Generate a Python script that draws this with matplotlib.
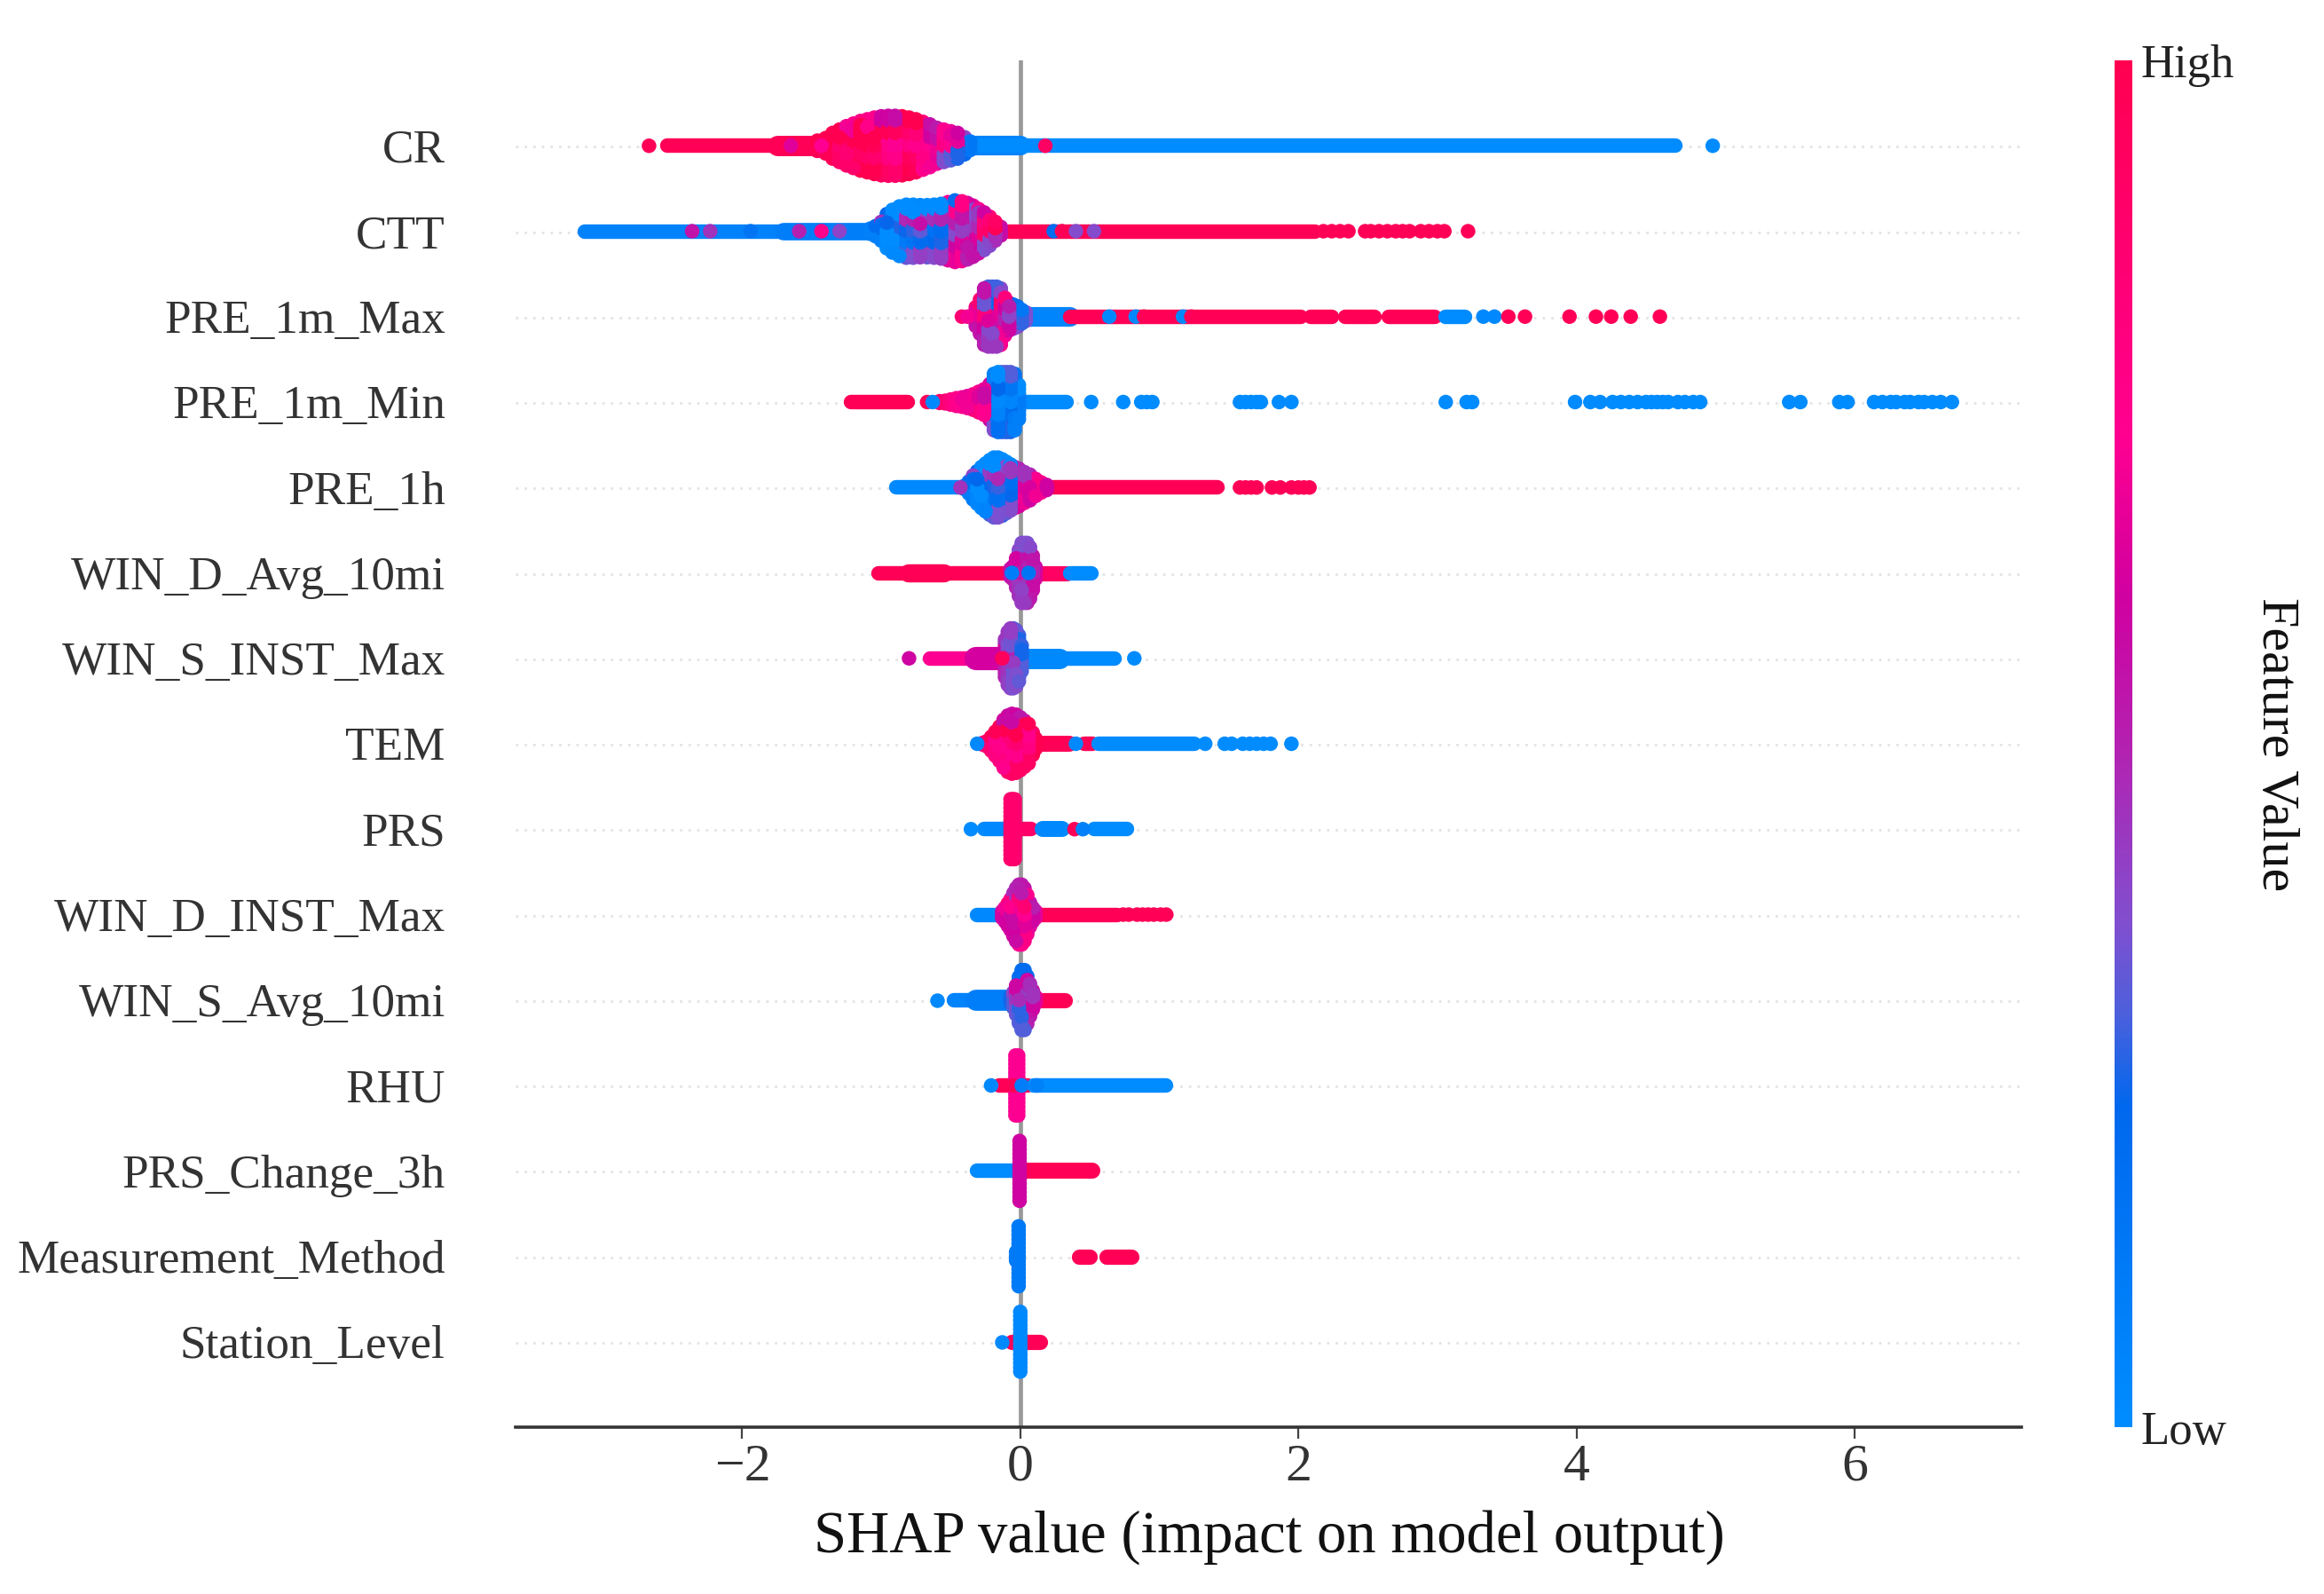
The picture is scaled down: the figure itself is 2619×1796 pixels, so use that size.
import numpy as np
import matplotlib
matplotlib.use("Agg")
import matplotlib.pyplot as plt
from matplotlib.colors import LinearSegmentedColormap, Normalize
from matplotlib.cm import ScalarMappable

plt.rcParams['font.family'] = ['Liberation Serif', 'DejaVu Serif']

features = ["CR", "CTT", "PRE_1m_Max", "PRE_1m_Min", "PRE_1h", "WIN_D_Avg_10mi",
            "WIN_S_INST_Max", "TEM", "PRS", "WIN_D_INST_Max", "WIN_S_Avg_10mi",
            "RHU", "PRS_Change_3h", "Measurement_Method", "Station_Level"]
x_ticks = [-2, 0, 2, 4, 6]

# each feature: dense bands (start, end, value, thickness), swarm columns (x, half-height in layers, value), single dots (x, value)
CR_run_s = [-2.54, -1.75, -0.34, -0.30]
CR_run_e = [-1.70, -1.42, 0.0, 4.71]
CR_run_v = [0.98, 0.98, 0.06, 0.01]
CR_run_w = [1.0, 1.4, 1.35, 1.0]
CR_col_x = [-1.46, -1.40, -1.35, -1.30, -1.25, -1.20, -1.15, -1.10, -1.05, -1.00, -0.95, -0.90, -0.85, -0.80, -0.75, -0.70, -0.65, -0.60, -0.55, -0.50, -0.45, -0.40, -0.36]
CR_col_n = [1.2, 1.8, 3.0, 3.8, 4.6, 5.2, 5.8, 6.2, 6.6, 6.9, 7.0, 7.0, 6.9, 6.6, 6.2, 5.6, 5.0, 4.2, 3.8, 3.4, 3.0, 2.0, 1.0]
CR_col_v = [0.98, 0.97, 0.97, 0.96, 0.95, 0.94, 0.92, 0.9, 0.88, 0.86, 0.85, 0.82, 0.8, 0.78, 0.74, 0.7, 0.66, 0.62, 0.56, 0.5, 0.44, 0.36, 0.28]
CR_dot_x = [-2.67, -1.65, -1.43, 0.18, 4.98]
CR_dot_v = [0.98, 0.65, 0.72, 0.92, 0.01]

CTT_run_s = [-3.13, -1.70, -0.08]
CTT_run_e = [-1.10, -1.06, 2.12]
CTT_run_v = [0.07, 0.1, 0.98]
CTT_run_w = [1.0, 1.2, 1.0]
CTT_col_x = [-1.08, -1.04, -1.00, -0.96, -0.92, -0.87, -0.82, -0.77, -0.72, -0.67, -0.62, -0.57, -0.52, -0.47, -0.42, -0.38, -0.34, -0.30, -0.26, -0.22, -0.18, -0.14]
CTT_col_n = [0.6, 1.2, 2.2, 4.0, 5.0, 5.8, 6.2, 6.2, 6.1, 6.1, 6.2, 6.4, 6.8, 7.2, 7.0, 6.6, 6.0, 5.2, 4.4, 3.4, 2.2, 1.0]
CTT_col_v = [0.08, 0.08, 0.08, 0.08, 0.1, 0.1, 0.12, 0.15, 0.2, 0.25, 0.3, 0.33, 0.36, 0.38, 0.42, 0.45, 0.5, 0.55, 0.6, 0.62, 0.7, 0.75]
CTT_dot_x = [-2.36, -2.23, -1.94, -1.59, -1.43, -1.30, 0.24, 0.30, 0.40, 0.53, 2.18, 2.24, 2.30, 2.36, 2.48, 2.52, 2.58, 2.64, 2.70, 2.75, 2.80, 2.88, 2.94, 3.00, 3.05, 3.22]
CTT_dot_v = [0.55, 0.45, 0.15, 0.5, 0.75, 0.4, 0.2, 0.98, 0.38, 0.38, 0.98, 0.98, 0.98, 0.98, 0.98, 0.98, 0.98, 0.98, 0.98, 0.98, 0.98, 0.98, 0.98, 0.98, 0.98, 0.98]

MAX_run_s = [0.04, 0.36, 2.09, 2.34, 2.65, 3.06]
MAX_run_e = [0.36, 2.02, 2.24, 2.55, 2.98, 3.20]
MAX_run_v = [0.05, 0.98, 0.98, 0.98, 0.98, 0.01]
MAX_run_w = [1.35, 1.0, 1.0, 1.0, 1.0, 1.0]
MAX_col_x = [-0.32, -0.29, -0.26, -0.23, -0.20, -0.17, -0.14, -0.11, -0.08, -0.05, -0.02, 0.01, 0.04]
MAX_col_n = [2.2, 4.0, 6.6, 7.0, 7.0, 7.0, 6.6, 4.4, 3.2, 2.8, 2.4, 1.6, 1.0]
MAX_col_v = [0.55, 0.55, 0.5, 0.5, 0.5, 0.5, 0.55, 0.5, 0.4, 0.35, 0.3, 0.2, 0.1]
MAX_dot_x = [-0.42, -0.38, 0.64, 0.83, 0.89, 1.17, 1.23, 3.33, 3.41, 3.51, 3.63, 3.95, 4.14, 4.25, 4.39, 4.60]
MAX_dot_v = [0.85, 0.7, 0.02, 0.02, 0.98, 0.02, 0.98, 0.02, 0.02, 0.98, 0.98, 0.98, 0.98, 0.98, 0.98, 0.98]

MIN_run_s = [-1.22, 0.04]
MIN_run_e = [-0.81, 0.33]
MIN_run_v = [0.98, 0.01]
MIN_run_w = [1.0, 1.0]
MIN_col_x = [-0.58, -0.54, -0.50, -0.46, -0.42, -0.38, -0.34, -0.30, -0.26, -0.22, -0.19, -0.16, -0.13, -0.10, -0.07, -0.04, -0.01]
MIN_col_n = [0.2, 0.3, 0.6, 0.9, 1.1, 1.4, 1.8, 2.4, 3.0, 4.2, 6.6, 7.0, 7.0, 7.0, 7.0, 6.6, 4.0]
MIN_col_v = [0.9, 0.85, 0.8, 0.8, 0.78, 0.75, 0.7, 0.65, 0.58, 0.5, 0.3, 0.12, 0.1, 0.06, 0.05, 0.05, 0.05]
MIN_dot_x = [-0.67, -0.63, 0.51, 0.74, 0.87, 0.91, 0.95, 1.58, 1.62, 1.66, 1.70, 1.73, 1.86, 1.95, 3.06, 3.21, 3.25, 3.99, 4.10, 4.17, 4.26, 4.32, 4.38, 4.44, 4.50, 4.54, 4.58, 4.62, 4.66, 4.73, 4.78, 4.84, 4.89, 5.53, 5.61, 5.89, 5.95, 6.14, 6.20, 6.26, 6.30, 6.36, 6.40, 6.46, 6.50, 6.56, 6.62, 6.70]
MIN_dot_v = [0.98, 0.02] + [0.01] * 46

H1_run_s = [-0.89, 0.24]
H1_run_e = [-0.43, 1.42]
H1_run_v = [0.02, 0.98]
H1_run_w = [1.0, 1.0]
H1_col_x = [-0.40, -0.37, -0.34, -0.31, -0.28, -0.25, -0.22, -0.19, -0.16, -0.13, -0.10, -0.07, -0.04, -0.01, 0.03, 0.07, 0.11, 0.15, 0.19]
H1_col_n = [0.4, 1.4, 2.8, 3.8, 4.8, 5.6, 6.4, 7.0, 7.0, 6.6, 6.0, 5.4, 4.8, 4.4, 3.6, 3.0, 2.0, 1.2, 0.6]
H1_col_v = [0.1, 0.1, 0.1, 0.1, 0.1, 0.12, 0.12, 0.15, 0.18, 0.2, 0.25, 0.3, 0.34, 0.38, 0.45, 0.55, 0.65, 0.7, 0.8]
H1_dot_x = [-0.43, 1.58, 1.62, 1.66, 1.70, 1.81, 1.87, 1.95, 2.00, 2.04, 2.08]
H1_dot_v = [0.45, 0.98, 0.98, 0.98, 0.98, 0.98, 0.98, 0.98, 0.98, 0.98, 0.98]

WDA_run_s = [-1.02, -0.80, 0.10, 0.36]
WDA_run_e = [-0.10, -0.55, 0.33, 0.51]
WDA_run_v = [0.98, 0.98, 0.92, 0.01]
WDA_run_w = [1.0, 1.25, 1.05, 1.0]
WDA_col_x = [-0.07, -0.05, -0.03, -0.01, 0.01, 0.03, 0.05, 0.07, 0.09, 0.11]
WDA_col_n = [1.0, 1.6, 3.4, 5.4, 7.0, 7.0, 7.0, 6.0, 4.0, 1.4]
WDA_col_v = [0.55, 0.55, 0.5, 0.48, 0.45, 0.45, 0.42, 0.45, 0.5, 0.6]
WDA_dot_x = [-0.06, 0.06]
WDA_dot_v = [0.1, 0.15]

WSI_run_s = [-0.65, -0.32, 0.04, 0.05]
WSI_run_e = [-0.30, -0.13, 0.68, 0.28]
WSI_run_v = [0.72, 0.62, 0.01, 0.03]
WSI_run_w = [1.0, 1.6, 1.0, 1.4]
WSI_col_x = [-0.11, -0.09, -0.07, -0.05, -0.03, -0.01, 0.01]
WSI_col_n = [4.4, 6.2, 7.0, 7.0, 6.6, 5.4, 3.0]
WSI_col_v = [0.5, 0.42, 0.4, 0.38, 0.4, 0.35, 0.25]
WSI_dot_x = [-0.80, 0.82, -0.13]
WSI_dot_v = [0.6, 0.01, 0.95]

TEM_run_s = [0.10, 0.46, 0.56]
TEM_run_e = [0.35, 0.52, 1.25]
TEM_run_v = [0.97, 0.97, 0.01]
TEM_run_w = [1.1, 1.0, 1.0]
TEM_col_x = [-0.27, -0.24, -0.21, -0.18, -0.15, -0.12, -0.09, -0.06, -0.03, 0.0, 0.03, 0.06, 0.09, 0.11]
TEM_col_n = [0.2, 0.6, 1.6, 2.8, 4.0, 5.6, 6.6, 7.0, 6.8, 6.2, 5.4, 4.6, 2.6, 1.2]
TEM_col_v = [0.85, 0.85, 0.85, 0.85, 0.85, 0.8, 0.72, 0.72, 0.75, 0.78, 0.85, 0.85, 0.88, 0.9]
TEM_dot_x = [-0.31, 0.40, 1.33, 1.47, 1.52, 1.60, 1.65, 1.70, 1.75, 1.80, 1.95]
TEM_dot_v = [0.03, 0.03, 0.01, 0.01, 0.01, 0.01, 0.01, 0.01, 0.01, 0.01, 0.01]

PRS_run_s = [-0.26, 0.00, 0.16, 0.53]
PRS_run_e = [-0.08, 0.08, 0.30, 0.77]
PRS_run_v = [0.02, 0.9, 0.02, 0.01]
PRS_run_w = [1.0, 1.0, 1.1, 1.0]
PRS_col_x = [-0.07, -0.055, -0.04]
PRS_col_n = [7, 7, 7]
PRS_col_v = [0.88, 0.88, 0.88]
PRS_dot_x = [-0.355, 0.39, 0.45]
PRS_dot_v = [0.01, 0.97, 0.08]

WDI_run_s = [-0.31, 0.13]
WDI_run_e = [-0.17, 0.70]
WDI_run_v = [0.02, 0.98]
WDI_run_w = [1.0, 1.0]
WDI_col_x = [-0.13, -0.11, -0.09, -0.07, -0.05, -0.03, -0.01, 0.01, 0.03, 0.05, 0.07, 0.09, 0.11]
WDI_col_n = [0.8, 1.6, 2.6, 3.6, 5.0, 6.2, 7.0, 7.0, 6.2, 4.6, 2.8, 1.6, 0.8]
WDI_col_v = [0.62, 0.62, 0.62, 0.65, 0.65, 0.62, 0.6, 0.62, 0.65, 0.65, 0.6, 0.55, 0.5]
WDI_dot_x = [0.74, 0.78, 0.84, 0.88, 0.92, 0.96, 1.01, 1.05]
WDI_dot_v = [0.98, 0.98, 0.98, 0.98, 0.98, 0.98, 0.98, 0.98]

WSA_run_s = [-0.48, -0.32, 0.10]
WSA_run_e = [-0.10, -0.06, 0.32]
WSA_run_v = [0.06, 0.1, 0.98]
WSA_run_w = [1.0, 1.45, 1.05]
WSA_col_x = [-0.07, -0.05, -0.03, -0.01, 0.01, 0.03, 0.05, 0.07, 0.09, 0.11]
WSA_col_n = [0.8, 1.8, 3.4, 5.4, 7.0, 7.0, 5.6, 3.8, 2.2, 0.8]
WSA_col_v = [0.25, 0.3, 0.35, 0.36, 0.36, 0.36, 0.35, 0.38, 0.45, 0.6]
WSA_dot_x = [-0.60]
WSA_dot_v = [0.03]

RHU_run_s = [-0.15, 0.10]
RHU_run_e = [0.05, 1.05]
RHU_run_v = [0.98, 0.01]
RHU_run_w = [1.0, 1.0]
RHU_col_x = [-0.035, -0.015]
RHU_col_n = [7, 7]
RHU_col_v = [0.72, 0.72]
RHU_dot_x = [-0.21, -0.05, 0.01, 0.12]
RHU_dot_v = [0.03, 0.98, 0.1, 0.08]

CHG_run_s = [-0.31, 0.04]
CHG_run_e = [-0.05, 0.52]
CHG_run_v = [0.01, 0.98]
CHG_run_w = [1.0, 1.1]
CHG_col_x = [-0.005]
CHG_col_n = [7]
CHG_col_v = [0.6]
CHG_dot_x = []
CHG_dot_v = []

MEA_run_s = [0.42, 0.62]
MEA_run_e = [0.50, 0.80]
MEA_run_v = [0.98, 0.98]
MEA_run_w = [1.05, 1.05]
MEA_col_x = [-0.03, -0.012]
MEA_col_n = [1, 7]
MEA_col_v = [0.12, 0.12]
MEA_dot_x = []
MEA_dot_v = []

STA_run_s = [-0.06]
STA_run_e = [0.14]
STA_run_v = [0.98]
STA_run_w = [1.05]
STA_col_x = [0.0]
STA_col_n = [7]
STA_col_v = [0.03]
STA_dot_x = [-0.13]
STA_dot_v = [0.03]

rows = [
    (CR_run_s, CR_run_e, CR_run_v, CR_run_w, CR_col_x, CR_col_n, CR_col_v, CR_dot_x, CR_dot_v, 0.14),
    (CTT_run_s, CTT_run_e, CTT_run_v, CTT_run_w, CTT_col_x, CTT_col_n, CTT_col_v, CTT_dot_x, CTT_dot_v, 0.18),
    (MAX_run_s, MAX_run_e, MAX_run_v, MAX_run_w, MAX_col_x, MAX_col_n, MAX_col_v, MAX_dot_x, MAX_dot_v, 0.16),
    (MIN_run_s, MIN_run_e, MIN_run_v, MIN_run_w, MIN_col_x, MIN_col_n, MIN_col_v, MIN_dot_x, MIN_dot_v, 0.13),
    (H1_run_s, H1_run_e, H1_run_v, H1_run_w, H1_col_x, H1_col_n, H1_col_v, H1_dot_x, H1_dot_v, 0.15),
    (WDA_run_s, WDA_run_e, WDA_run_v, WDA_run_w, WDA_col_x, WDA_col_n, WDA_col_v, WDA_dot_x, WDA_dot_v, 0.06),
    (WSI_run_s, WSI_run_e, WSI_run_v, WSI_run_w, WSI_col_x, WSI_col_n, WSI_col_v, WSI_dot_x, WSI_dot_v, 0.05),
    (TEM_run_s, TEM_run_e, TEM_run_v, TEM_run_w, TEM_col_x, TEM_col_n, TEM_col_v, TEM_dot_x, TEM_dot_v, 0.14),
    (PRS_run_s, PRS_run_e, PRS_run_v, PRS_run_w, PRS_col_x, PRS_col_n, PRS_col_v, PRS_dot_x, PRS_dot_v, 0.0),
    (WDI_run_s, WDI_run_e, WDI_run_v, WDI_run_w, WDI_col_x, WDI_col_n, WDI_col_v, WDI_dot_x, WDI_dot_v, 0.1),
    (WSA_run_s, WSA_run_e, WSA_run_v, WSA_run_w, WSA_col_x, WSA_col_n, WSA_col_v, WSA_dot_x, WSA_dot_v, 0.12),
    (RHU_run_s, RHU_run_e, RHU_run_v, RHU_run_w, RHU_col_x, RHU_col_n, RHU_col_v, RHU_dot_x, RHU_dot_v, 0.0),
    (CHG_run_s, CHG_run_e, CHG_run_v, CHG_run_w, CHG_col_x, CHG_col_n, CHG_col_v, CHG_dot_x, CHG_dot_v, 0.0),
    (MEA_run_s, MEA_run_e, MEA_run_v, MEA_run_w, MEA_col_x, MEA_col_n, MEA_col_v, MEA_dot_x, MEA_dot_v, 0.0),
    (STA_run_s, STA_run_e, STA_run_v, STA_run_w, STA_col_x, STA_col_n, STA_col_v, STA_dot_x, STA_dot_v, 0.0),
]

# hand-read colour spread inside a swarm (added to a column's value, scaled per row)
mottle = [0.0, 0.9, -1.0, 1.6, -0.4, 0.7, -1.8, 0.3, 1.2, -0.7, 2.0, -1.3, 0.5]

W, H = 2619, 1796
fig = plt.figure(figsize=(W / 100, H / 100), dpi=100, facecolor='white')
ax = fig.add_axes([581 / W, 1 - 1608 / H, (2278 - 581) / W, (1608 - 68) / H])

cmap = LinearSegmentedColormap.from_list('shap_rb', [
    (0.0, '#008cff'), (0.234, '#0068ee'), (0.30, '#4a60dc'), (0.366, '#7f50d0'),
    (0.5, '#b520b0'), (0.61, '#d000a0'), (0.727, '#ff0090'), (1.0, '#ff0051')])
norm = Normalize(0, 1)

DOT_S = 140
DOT_LW = 11.8
LAYER = 0.05
n_rows = len(features)
for i, (rs, re, rv, rw, cx, cn, cv, dx, dv, spread) in enumerate(rows):
    y = n_rows - 1 - i
    ax.axhline(y - 0.012, color='#e4e4e4', lw=2.0, ls=(0, (1, 2.5)), zorder=0)
    ax.hlines([y] * len(rs), rs, re, colors=cmap(norm(rv)),
              linewidth=[DOT_LW * w for w in rw], capstyle='round', zorder=2)
    px, py, pv, po = [], [], [], []
    for j, (x0, n, v0) in enumerate(zip(cx, cn, cv)):
        layers = int(np.ceil(n))
        for k, off in enumerate(np.linspace(-n, n, 2 * layers + 1)):
            px.append(x0)
            py.append(y + off * LAYER)
            a, b = j // 3, k // 3
            m = mottle[(a * 4 + b * 5) % len(mottle)]
            pv.append(float(np.clip(v0 + spread * m, 0, 1)))
            po.append((a * 7 + b * 11 + j + k) % 13)
    order = np.argsort(po, kind='stable')
    ax.scatter(np.array(px)[order], np.array(py)[order], c=np.array(pv)[order],
               cmap=cmap, norm=norm, s=DOT_S, linewidths=0, zorder=3)
    if dx:
        ax.scatter(dx, [y] * len(dx), c=dv, cmap=cmap, norm=norm, s=DOT_S,
                   linewidths=0, zorder=4)

ax.axvline(0, color='#999999', lw=3.4, zorder=1)
ax.set_xlim(-3.63, 7.2)
ax.set_ylim(-1, n_rows)
ax.set_yticks(range(n_rows))
ax.set_yticklabels(features[::-1], fontsize=38.3, color='#333333')
ax.set_xticks(x_ticks)
ax.set_xticklabels([f'\u2212{abs(t)}' if t < 0 else str(t) for t in x_ticks], fontsize=43, color='#333333')
ax.tick_params(axis='y', length=0, pad=57)
ax.tick_params(axis='x', length=9.4, width=1.6, color='#444444', pad=4)
for s in ['left', 'right', 'top']:
    ax.spines[s].set_visible(False)
ax.spines['bottom'].set_linewidth(2.6)
ax.spines['bottom'].set_color('#333333')
fig.text(1430 / W, 1 - 1732 / H, 'SHAP value (impact on model output)', fontsize=48.1,
         ha='center', va='center', color='#111111')

cax = fig.add_axes([2383 / W, 1 - 1608 / H, 20 / W, (1608 - 68) / H])
cb = fig.colorbar(ScalarMappable(norm=norm, cmap=cmap), cax=cax)
cb.set_ticks([0, 1])
cb.set_ticklabels(['Low', 'High'], fontsize=38, color='#222222')
cax.tick_params(length=0, pad=7)
cb.outline.set_visible(False)
fig.text(2564 / W, 1 - 839 / H, 'Feature Value', fontsize=43.3, rotation=270,
         ha='center', va='center', color='#111111')

fig.savefig('out.png', dpi=100)
